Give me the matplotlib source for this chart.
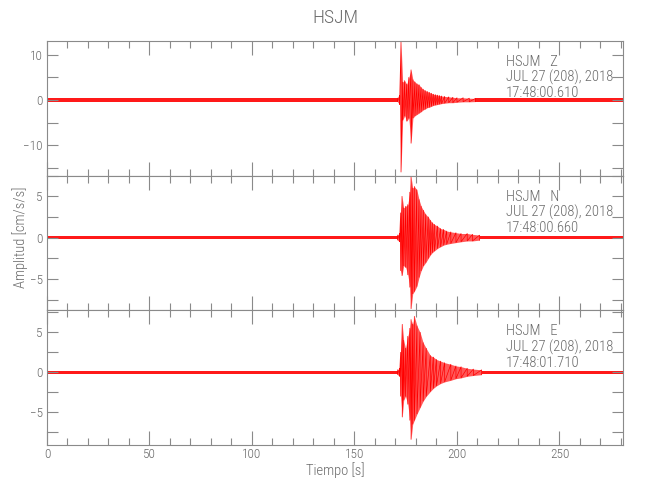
import matplotlib
matplotlib.use("Agg")
import matplotlib.pyplot as plt
from matplotlib.ticker import MultipleLocator
from matplotlib import font_manager as fm

station = "HSJM"
components = ["Z", "N", "E"]
start_times = ["17:48:00.610", "17:48:00.660", "17:48:01.710"]
date_label = "JUL 27 (208), 2018"
duration = 281.0

# Peak envelopes (time in s, upper and lower peaks)
z_t  = [171, 172, 172.7, 173.5, 174.5, 175.5, 176.5, 177.6, 178.5, 179.5, 180.5, 181.5, 182.5,
        183.5, 184.5, 185.5, 186.5, 187.5, 188.5, 189.5, 190.5, 191.5, 192.5, 194, 196, 198,
        200, 203, 206, 209]
z_up = [0.4, 1.0, 12.9, 4.0, 4.3, 3.5, 5.0, 6.7, 4.5, 4.0, 3.6, 3.4, 2.8,
        2.4, 2.1, 1.9, 1.7, 1.5, 1.3, 1.2, 1.1, 1.0, 0.9, 0.8, 0.7, 0.6,
        0.5, 0.5, 0.4, 0.35]
z_lo = [-0.4, -1.0, -16.0, -4.5, -3.5, -4.7, -4.0, -9.6, -4.0, -3.5, -3.2, -2.9, -2.6,
        -2.2, -2.0, -1.7, -1.6, -1.4, -1.2, -1.1, -1.0, -0.9, -0.8, -0.7, -0.6, -0.6,
        -0.5, -0.4, -0.4, -0.35]

n_t  = [171, 172, 172.5, 173.2, 174, 175, 176, 177, 177.6, 178.4, 179.2, 180.4, 181.5, 182.5,
        183.6, 184.8, 186, 187, 188, 189, 190.5, 192, 193.5, 195, 197, 199.5, 202, 205,
        207.6, 211]
n_up = [0.3, 0.5, 3.0, 5.0, 3.6, 3.8, 4.0, 5.5, 7.4, 6.0, 6.2, 5.8, 4.6, 3.8,
        3.3, 2.8, 2.5, 2.1, 1.8, 1.6, 1.4, 1.1, 1.0, 0.8, 0.7, 0.6, 0.5, 0.5,
        0.4, 0.3]
n_lo = [-0.3, -0.5, -4.0, -4.6, -3.4, -3.6, -4.5, -6.0, -8.6, -6.8, -6.5, -5.9, -4.8, -4.0,
        -3.4, -3.0, -2.5, -2.1, -1.8, -1.6, -1.3, -1.1, -0.9, -0.8, -0.7, -0.6, -0.5, -0.4,
        -0.4, -0.3]

e_t  = [171, 172, 172.5, 173.3, 174, 174.9, 176, 177, 177.6, 178.4, 179.2, 180.5, 182,
        183.5, 185, 187, 188.5, 190, 192, 194, 197, 199.5, 202, 205, 208, 212]
e_up = [0.3, 0.5, 2.5, 6.0, 4.0, 3.0, 4.5, 5.5, 6.6, 6.0, 7.0, 5.8, 5.0,
        3.7, 3.0, 2.1, 1.9, 1.6, 1.4, 1.2, 1.0, 0.8, 0.7, 0.5, 0.4, 0.3]
e_lo = [-0.3, -0.5, -3.0, -5.6, -3.5, -3.0, -4.0, -6.0, -8.4, -6.5, -6.0, -5.2, -4.4,
        -3.6, -3.0, -2.4, -2.0, -1.7, -1.4, -1.2, -1.0, -0.8, -0.7, -0.5, -0.4, -0.3]

noise_level = [0.38, 0.22, 0.22]

traces = [(z_t, z_up, z_lo), (n_t, n_up, n_lo), (e_t, e_up, e_lo)]
ylims = [(-16.8, 13.1), (-8.8, 7.5), (-9.1, 7.75)]
ymajor = [10, 5, 5]
yminor = [5, 2.5, 2.5]


def pick_font():
    for fam in ["Liberation Sans Narrow", "Roboto Condensed", "Open Sans Condensed",
                "Noto Sans Condensed"]:
        try:
            fm.findfont(fm.FontProperties(family=fam), fallback_to_default=False)
            return {"family": fam, "weight": "light"}, 1.0
        except Exception:
            pass
    p = fm.findfont(fm.FontProperties(family="DejaVu Sans", stretch="condensed"))
    if "Condensed" in p:
        return {"family": "DejaVu Sans", "stretch": "condensed"}, 0.92
    return {"family": "DejaVu Sans"}, 0.85


FKW, FS = pick_font()
GRAY = "#8a8a8a"
TXT = "#6a6a6a"

fig = plt.figure(figsize=(6.5, 5.0), dpi=100)
L, R, T, B = 47, 623, 41, 445
ph = (B - T) / 3.0

for i, (comp, st) in enumerate(zip(components, start_times)):
    top_px = T + i * ph
    bot_px = top_px + ph
    ax = fig.add_axes([L / 650, 1 - bot_px / 500, (R - L) / 650, ph / 500])
    t, up, lo = traces[i]
    nl = noise_level[i]
    ax.fill_between([0, t[0]], [-nl, -nl], [nl, nl], color="red", lw=0, alpha=0.9)
    ax.fill_between([t[-1], duration], [-nl, -nl], [nl, nl], color="red", lw=0, alpha=0.9)
    ax.fill_between(t, lo, up, color="red", lw=0, alpha=0.65)
    xs, ys = [], []
    for tt, u, l in zip(t, up, lo):
        xs += [tt, tt]
        ys += [u, l]
    ax.plot(xs, ys, color="red", lw=0.5)
    ax.set_xlim(0, duration)
    ax.set_ylim(*ylims[i])
    ax.xaxis.set_major_locator(MultipleLocator(50))
    ax.xaxis.set_minor_locator(MultipleLocator(10))
    ax.yaxis.set_major_locator(MultipleLocator(ymajor[i]))
    ax.yaxis.set_minor_locator(MultipleLocator(yminor[i]))
    ax.tick_params(which="both", direction="in", top=True, right=True, color=GRAY,
                   labelcolor=TXT, labelsize=9.5 * FS, width=0.8, pad=3)
    ax.tick_params(axis="x", which="major", length=10, pad=2)
    ax.tick_params(axis="x", which="minor", length=5)
    ax.tick_params(axis="y", which="both", length=8)
    for s in ax.spines.values():
        s.set_color(GRAY)
        s.set_linewidth(0.8)
    for lab in ax.get_xticklabels() + ax.get_yticklabels():
        lab.set(**FKW)
    if i < 2:
        ax.tick_params(axis="x", labelbottom=False)
    for y, s in zip([0.845, 0.728, 0.612], [f"{station}   {comp}", date_label, st]):
        ax.text(0.797, y, s, transform=ax.transAxes, color=TXT, fontsize=10.5 * FS,
                va="center", ha="left", **FKW)

fig.text((L + R) / 2 / 650, 1 - 18 / 500, station, ha="center", va="center",
         fontsize=14 * FS, color=TXT, **FKW)
fig.text((L + R) / 2 / 650, 1 - 470 / 500, "Tiempo [s]", ha="center", va="center",
         fontsize=10.5 * FS, color=TXT, **FKW)
fig.text(20 / 650, 1 - 237 / 500, "Amplitud [cm/s/s]", ha="center", va="center",
         rotation=90, fontsize=10.5 * FS, color=TXT, **FKW)

fig.savefig("out.png", dpi=100, facecolor="white")
